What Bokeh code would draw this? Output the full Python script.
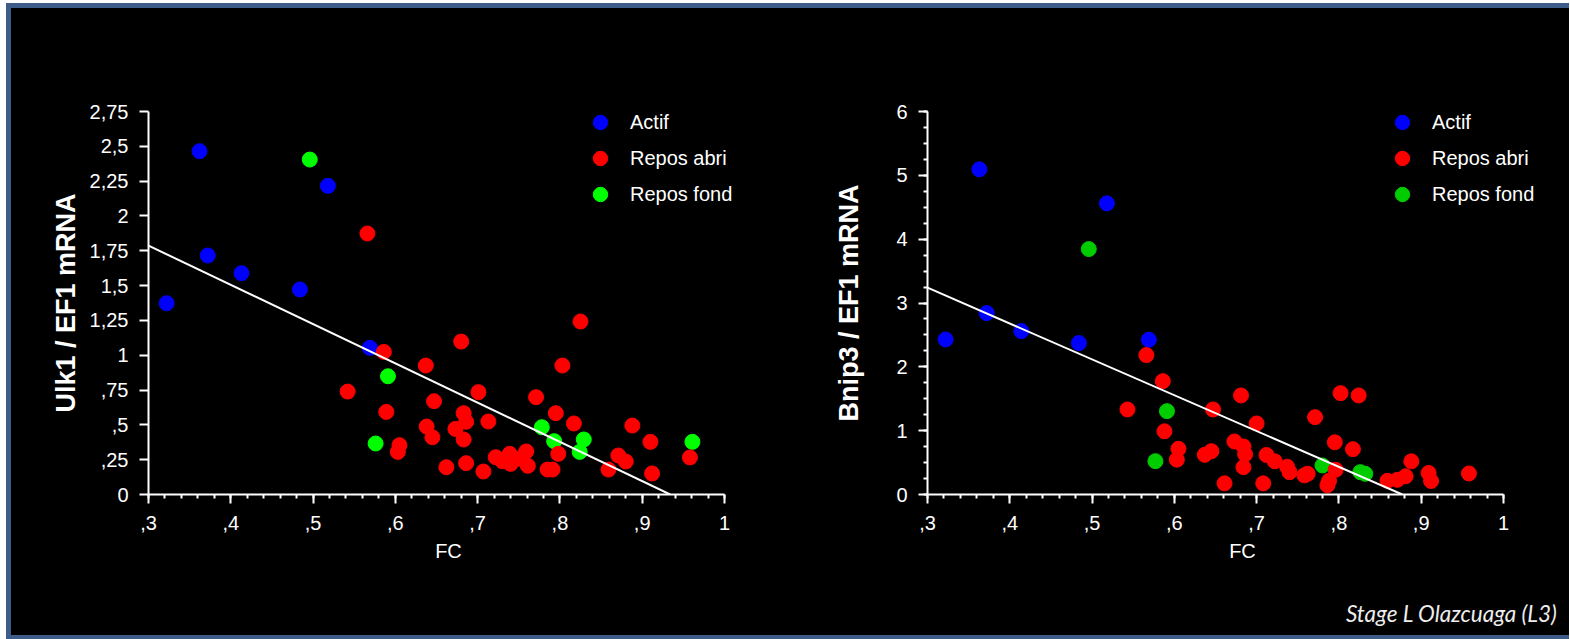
from bokeh.plotting import figure
from bokeh.models import FixedTicker, Legend, LegendItem, Range1d, Title, Spacer
from bokeh.layouts import row, column
from bokeh.embed import file_html
from bokeh.resources import INLINE

# ---------------- data ----------------
x_ticks = [0.3, 0.4, 0.5, 0.6, 0.7, 0.8, 0.9, 1.0]
x_tick_labels = [",3", ",4", ",5", ",6", ",7", ",8", ",9", "1"]

ulk_ticks = [0, 0.25, 0.5, 0.75, 1.0, 1.25, 1.5, 1.75, 2.0, 2.25, 2.5, 2.75]
ulk_tick_labels = ["0", ",25", ",5", ",75", "1", "1,25", "1,5", "1,75", "2", "2,25", "2,5", "2,75"]

bnip_ticks = [0, 1, 2, 3, 4, 5, 6]
bnip_tick_labels = ["0", "1", "2", "3", "4", "5", "6"]

# Ulk1 / EF1 mRNA
ulk_actif_fc = [0.322, 0.362, 0.372, 0.413, 0.484, 0.518, 0.569]
ulk_actif_y = [1.373, 2.465, 1.716, 1.589, 1.472, 2.216, 1.053]

ulk_fond_fc = [0.496, 0.591, 0.576, 0.778, 0.793, 0.829, 0.824, 0.961]
ulk_fond_y = [2.405, 0.849, 0.366, 0.483, 0.383, 0.395, 0.306, 0.378]

ulk_abri_fc = [0.566, 0.586, 0.680, 0.637, 0.542, 0.701, 0.647, 0.589, 0.683, 0.686,
               0.638, 0.645, 0.673, 0.683, 0.605, 0.603, 0.662, 0.686, 0.707, 0.825,
               0.803, 0.771, 0.713, 0.795, 0.817, 0.888, 0.910, 0.958, 0.798, 0.722,
               0.739, 0.740, 0.730, 0.759, 0.761, 0.752, 0.785, 0.791, 0.859, 0.871,
               0.880, 0.912]
ulk_abri_y = [1.874, 1.024, 1.098, 0.926, 0.739, 0.735, 0.670, 0.593, 0.584, 0.522,
              0.488, 0.411, 0.471, 0.395, 0.354, 0.306, 0.196, 0.225, 0.165, 1.242,
              0.926, 0.699, 0.524, 0.584, 0.510, 0.495, 0.378, 0.266, 0.292, 0.268,
              0.292, 0.220, 0.239, 0.309, 0.206, 0.256, 0.179, 0.179, 0.179, 0.280,
              0.237, 0.151]

ulk_fit_fc = [0.3, 0.934]
ulk_fit_y = [1.787, 0.0]

# Bnip3 / EF1 mRNA
bnip_actif_fc = [0.322, 0.363, 0.372, 0.414, 0.484, 0.518, 0.569]
bnip_actif_y = [2.429, 5.094, 2.842, 2.560, 2.372, 4.561, 2.425]

bnip_fond_fc = [0.496, 0.591, 0.577, 0.780, 0.826, 0.832]
bnip_fond_y = [3.845, 1.306, 0.522, 0.455, 0.350, 0.324]

bnip_abri_fc = [0.566, 0.586, 0.543, 0.681, 0.647, 0.588, 0.605, 0.603, 0.637, 0.645,
                0.661, 0.673, 0.684, 0.686, 0.684, 0.700, 0.771, 0.802, 0.824, 0.795,
                0.817, 0.888, 0.909, 0.912, 0.958, 0.708, 0.712, 0.722, 0.737, 0.740,
                0.758, 0.762, 0.796, 0.788, 0.786, 0.859, 0.871, 0.881]
bnip_abri_y = [2.184, 1.776, 1.332, 1.552, 1.332, 0.990, 0.716, 0.546, 0.622, 0.679,
               0.175, 0.831, 0.752, 0.630, 0.428, 1.113, 1.212, 1.588, 1.552, 0.818,
               0.710, 0.520, 0.337, 0.212, 0.329, 0.175, 0.619, 0.520, 0.435, 0.350,
               0.300, 0.325, 0.387, 0.215, 0.145, 0.215, 0.230, 0.285]

bnip_fit_fc = [0.3, 0.877]
bnip_fit_y = [3.24, 0.0]

# ---------------- style ----------------
FONT = "Liberation Sans"
BLUE = "#0000FF"
RED = "#FF0000"
GREEN_L = "#00FF00"
GREEN_R = "#00CC00"
FRAME = "#3D5C8A"
PX_PER_UNIT = 576 / 0.7   # horizontal scale of both panels


def make_panel(width, frame_w, ymax, yticks, yminor, ylabels, ylabel, act, abri, fond,
               fit, green, min_left, ylabel_standoff, legend_x):
    x_end = 0.3 + frame_w / PX_PER_UNIT
    p = figure(width=width, height=627,
               min_border_left=min_left, min_border_right=width - min_left - frame_w,
               min_border_top=103, min_border_bottom=141,
               x_range=Range1d(0.3, x_end), y_range=Range1d(0, ymax),
               output_backend="svg", toolbar_location=None)
    p.background_fill_color = "black"
    p.border_fill_color = "black"
    p.outline_line_color = None
    p.grid.visible = False

    # x axis
    xa = p.xaxis[0]
    minor_x = [round(0.3 + 0.02 * i, 2) for i in range(36)]
    xa.ticker = FixedTicker(ticks=x_ticks, minor_ticks=minor_x)
    xa.major_label_overrides = {t: l for t, l in zip(x_ticks, x_tick_labels)}
    xa.bounds = (0.3, 1.0)
    xa.axis_label = "FC"
    xa.axis_label_text_font_style = "normal"
    xa.axis_label_text_font_size = "20px"
    xa.axis_label_standoff = 7
    xa.major_label_standoff = 12
    # y axis
    ya = p.yaxis[0]
    ya.ticker = FixedTicker(ticks=yticks, minor_ticks=yminor)
    ya.major_label_overrides = {t: l for t, l in zip(yticks, ylabels)}
    ya.axis_label = ylabel
    ya.axis_label_text_font_style = "bold"
    ya.axis_label_text_font_size = "27px"
    ya.axis_label_standoff = ylabel_standoff
    ya.major_label_standoff = 11

    for ax in (xa, ya):
        ax.axis_line_color = "white"
        ax.axis_line_width = 2
        ax.major_tick_line_color = "white"
        ax.minor_tick_line_color = "white"
        ax.major_tick_line_width = 2
        ax.minor_tick_line_width = 2
        ax.major_tick_in = 0
        ax.minor_tick_in = 0
        ax.major_tick_out = 9
        ax.minor_tick_out = 4
        ax.major_label_text_color = "white"
        ax.major_label_text_font = FONT
        ax.major_label_text_font_size = "20px"
        ax.axis_label_text_color = "white"
        ax.axis_label_text_font = FONT

    r_act = p.scatter(act[0], act[1], size=15, color=BLUE, line_width=1)
    r_fond = p.scatter(fond[0], fond[1], size=15, color=green, line_width=1)
    r_abri = p.scatter(abri[0], abri[1], size=15, color=RED, line_width=1)
    p.line(fit[0], fit[1], line_color="white", line_width=2)

    legend = Legend(items=[LegendItem(label="Actif", renderers=[r_act]),
                           LegendItem(label="Repos abri", renderers=[r_abri]),
                           LegendItem(label="Repos fond", renderers=[r_fond])],
                    location=(legend_x, 282))
    legend.label_text_font = FONT
    legend.label_text_font_size = "20px"
    legend.label_text_color = "white"
    legend.glyph_width = 40
    legend.glyph_height = 36
    legend.label_height = 36
    legend.spacing = 0
    legend.padding = 0
    legend.margin = 0
    legend.label_standoff = 10
    legend.border_line_color = None
    legend.background_fill_alpha = 0
    p.add_layout(legend)
    return p


p1 = make_panel(776, 600, 2.75, ulk_ticks, [], ulk_tick_labels, "Ulk1 / EF1 mRNA",
                (ulk_actif_fc, ulk_actif_y), (ulk_abri_fc, ulk_abri_y),
                (ulk_fond_fc, ulk_fond_y), (ulk_fit_fc, ulk_fit_y), GREEN_L,
                137, 6, 432)

bnip_minor = [i * 0.25 for i in range(25)]
p2 = make_panel(782, 630, 6, bnip_ticks, bnip_minor, bnip_tick_labels, "Bnip3 / EF1 mRNA",
                (bnip_actif_fc, bnip_actif_y), (bnip_abri_fc, bnip_abri_y),
                (bnip_fond_fc, bnip_fond_y), (bnip_fit_fc, bnip_fit_y), GREEN_R,
                140, 29, 455)

# a blank title keeps the credit line further down, below the x axis
gap = Title(text=" ", text_font_size="1px", standoff=30)
p2.add_layout(gap, "below")
credit = Title(text="Stage L Olazcuaga (L3)", align="right",
               text_font="Lato", text_font_style="italic", text_font_size="22.5px",
               text_color="#EDEDED", standoff=0)
p2.add_layout(credit, "below")

plots = row(p1, p2, spacing=0, styles={"background-color": "black"})
frame_left = Spacer(width=5, height=636, styles={"background-color": FRAME})
frame_top = Spacer(width=1558, height=5, styles={"background-color": FRAME})
frame_bottom = Spacer(width=1558, height=4, styles={"background-color": FRAME})
layout = row(frame_left, column(frame_top, plots, frame_bottom, spacing=0),
             spacing=0, margin=(3, 0, 0, 6))

open("out.html", "w").write(file_html(layout, INLINE))
